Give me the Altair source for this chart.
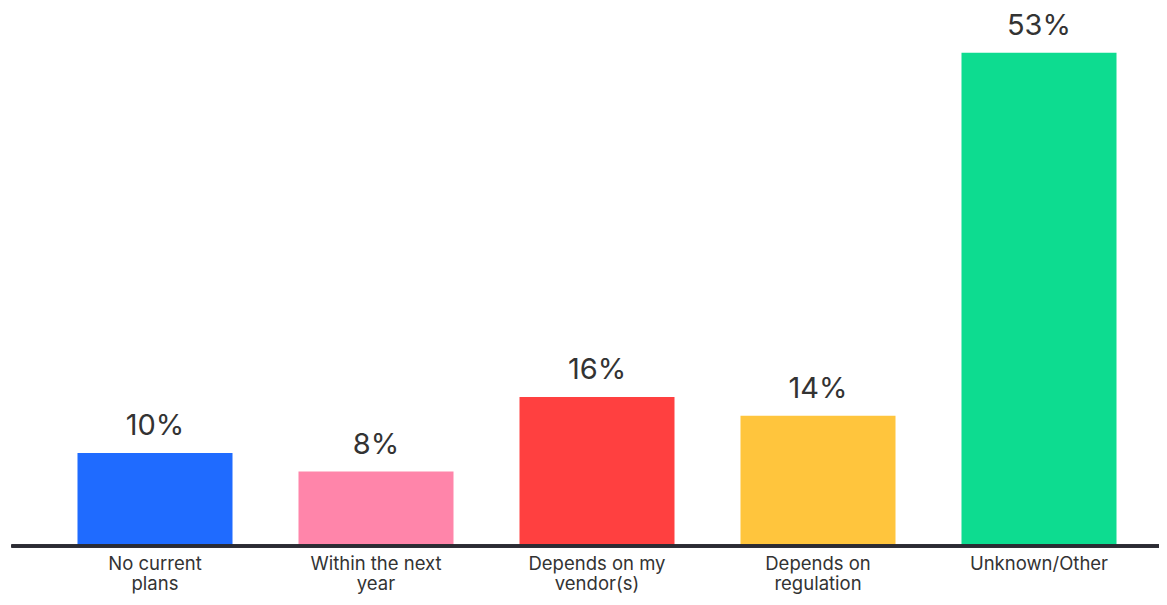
import altair as alt
import pandas as pd

categories = ["No current\nplans", "Within the next\nyear", "Depends on my\nvendor(s)",
              "Depends on\nregulation", "Unknown/Other"]
values = [10, 8, 16, 14, 53]
colors = ["#1f6bff", "#ff85aa", "#ff4040", "#ffc53d", "#0ddc90"]

df = pd.DataFrame({"cat": categories, "val": values, "color": colors})
df["label"] = df["val"].astype(str) + "%"

FONT = "Inter"

x = alt.X("cat:N", sort=categories,
          scale=alt.Scale(paddingInner=0.2986, paddingOuter=0.1493),
          axis=alt.Axis(title=None, domain=False, ticks=False, labelAngle=0,
                        labelExpr="split(datum.label, '\\n')",
                        labelFontSize=18.5, labelColor="#333333", labelFont=FONT,
                        labelLineHeight=20, labelPadding=8, labelBaseline="top"))
y = alt.Y("val:Q", scale=alt.Scale(domain=[0, 53.3], nice=False),
          axis=None)

bars = alt.Chart(df).mark_bar().encode(
    x=x, y=y, color=alt.Color("color:N", scale=None))

text = alt.Chart(df).mark_text(baseline="bottom", dy=-12, fontSize=29,
                               font=FONT, color="#333333").encode(
    x=alt.X("cat:N", sort=categories), y="val:Q", text="label:N")

base = alt.Chart(df).mark_rule(color="#2b2b33", strokeWidth=3).encode(
    x=alt.value(-33), x2=alt.value(1125), y=alt.value(496))

chart = alt.layer(bars, text, base).properties(
    width=1105, height=496,
    autosize=alt.AutoSizeParams(type="none"),
    padding={"left": 36.5, "top": 42, "right": 9, "bottom": 51},
).configure_view(stroke=None)

chart.save("out.html", embed_options={"renderer": "svg", "actions": False})
